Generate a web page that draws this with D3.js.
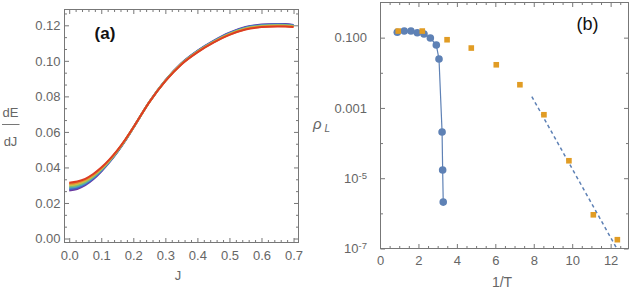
<!DOCTYPE html>
<html>
<head>
<meta charset="utf-8">
<script src="https://cdn.jsdelivr.net/npm/d3@7"></script>
<style>
  body { margin: 0; background: #fff; }
  svg { display: block; font-family: "Liberation Sans", Arial, sans-serif; }
  .tick text { fill: #666; font-size: 13px; }
  .tick line { stroke: #777; }
  .frame { fill: none; stroke: #777; stroke-width: 1; }
  .lbl { fill: #666; font-size: 13px; }
</style>
</head>
<body>
<svg width="633" height="293"></svg>
<script>
// panel (a): dE/dJ vs J, one curve per system size
let jVals = [0, 0.025, 0.05, 0.075, 0.1, 0.125, 0.15, 0.175, 0.2, 0.25, 0.3, 0.35, 0.4, 0.45, 0.5, 0.55, 0.6, 0.65, 0.675, 0.7];
let curvePurple = [.0270, .0279, .0300, .0333, .0377, .0428, .0486, .0551, .0623, .0768, .0890, .0986, .1056, .1112, .1158, .1190, .1204, .1208, .1207, .1202];
let curveBlue   = [.0277, .0286, .0306, .0338, .0381, .0431, .0488, .0552, .0623, .0768, .0889, .0985, .1055, .1110, .1156, .1188, .1202, .1206, .1205, .1200];
let curveCyan   = [.0285, .0293, .0312, .0343, .0384, .0433, .0489, .0553, .0624, .0768, .0889, .0984, .1053, .1109, .1154, .1185, .1199, .1203, .1202, .1198];
let curveGreen  = [.0292, .0300, .0318, .0348, .0388, .0436, .0491, .0554, .0624, .0768, .0888, .0983, .1052, .1107, .1152, .1183, .1197, .1201, .1200, .1196];
let curveYellow = [.0299, .0307, .0324, .0353, .0392, .0439, .0493, .0555, .0624, .0768, .0887, .0982, .1051, .1105, .1150, .1181, .1195, .1199, .1198, .1194];
let curveOrange = [.0307, .0314, .0330, .0358, .0395, .0441, .0494, .0556, .0625, .0768, .0887, .0981, .1049, .1104, .1148, .1178, .1192, .1196, .1195, .1192];
let curveRed    = [.0314, .0321, .0336, .0363, .0399, .0444, .0496, .0557, .0625, .0768, .0886, .0980, .1048, .1102, .1146, .1176, .1190, .1194, .1193, .1190];
let curves = [curvePurple, curveBlue, curveCyan, curveGreen, curveYellow, curveOrange, curveRed];
let curveColors = ["#6b3aa0", "#4062c8", "#4a9fc4", "#7dbd72", "#c8c04a", "#e8902e", "#dc3d24"];

let aXTicks = [0, 0.1, 0.2, 0.3, 0.4, 0.5, 0.6, 0.7];
let aYTicks = [0, 0.02, 0.04, 0.06, 0.08, 0.1, 0.12];

// panel (b): rho_L vs 1/T
let blueX = [0.90, 1.26, 1.61, 1.94, 2.29, 2.62, 2.93, 3.07, 3.23, 3.26, 3.29];
let blueY = [0.142, 0.154, 0.154, 0.138, 0.127, 0.0975, 0.0616, 0.0246, 2.06e-4, 1.71e-5, 2.09e-6];
let orangeX = [0.95, 2.20, 3.49, 4.75, 6.05, 7.28, 8.53, 9.83, 11.10, 12.35];
let orangeY = [0.154, 0.154, 0.0872, 0.0506, 0.0169, 0.00457, 6.4e-4, 3.14e-5, 9.1e-7, 1.78e-7];
let fitX = [7.9, 12.32];
let fitY = [2.1e-3, 1.0e-7];

let bXTicks = [0, 2, 4, 6, 8, 10, 12];
let bYTicks = [1e-1, 1e-3, 1e-5, 1e-7];
let bYLabels = ["0.100", "0.001", "10|-5", "10|-7"];

let svg = d3.select("svg");

function frameTicks(g, x, y, xMaj, xMin, yMaj, yMin, x0, x1, y0, y1) {
  // bottom / left with labels, top / right mirrored
  g.append("g").attr("transform", `translate(0,${y1})`)
    .call(d3.axisBottom(x).tickValues(xMin).tickSize(-2.5).tickFormat(""));
  g.append("g").attr("transform", `translate(0,${y0})`)
    .call(d3.axisTop(x).tickValues(xMin).tickSize(-2.5).tickFormat(""));
  g.append("g").attr("transform", `translate(0,${y0})`)
    .call(d3.axisTop(x).tickValues(xMaj).tickSize(-4.5).tickFormat(""));
  g.append("g").attr("transform", `translate(${x0},0)`)
    .call(d3.axisLeft(y).tickValues(yMin).tickSize(-2.5).tickFormat(""));
  g.append("g").attr("transform", `translate(${x1},0)`)
    .call(d3.axisRight(y).tickValues(yMin).tickSize(-2.5).tickFormat(""));
  g.append("g").attr("transform", `translate(${x1},0)`)
    .call(d3.axisRight(y).tickValues(yMaj).tickSize(-4.5).tickFormat(""));
  g.selectAll(".domain").remove();
}

// ---------- (a) ----------
let ax0 = 64.5, ax1 = 298.5, ay0 = 9.5, ay1 = 242.5;
let xa = d3.scaleLinear().domain([-0.0147, 0.7155]).range([ax0, ax1]);
let ya = d3.scaleLinear().domain([-0.00225, 0.1289]).range([ay1, ay0]);

let ga = svg.append("g");

let lineA = d3.line()
  .x((d, i) => xa(jVals[i]))
  .y(d => ya(d))
  .curve(d3.curveMonotoneX);

curves.forEach((c, k) => {
  ga.append("path")
    .attr("d", lineA(c))
    .attr("fill", "none")
    .attr("stroke", curveColors[k])
    .attr("stroke-width", 2);
});

let aXMinor = d3.range(0, 0.711, 0.02).filter(v => Math.abs(v * 10 - Math.round(v * 10)) > 1e-6);
let aYMinor = d3.range(0, 0.1285, 0.02 / 3).filter(v => Math.abs(v * 50 - Math.round(v * 50)) > 1e-6);

ga.append("g").attr("transform", `translate(0,${ay1})`)
  .call(d3.axisBottom(xa).tickValues(aXTicks).tickSize(-4.5).tickPadding(8)
    .tickFormat(d3.format(".1f")));
ga.append("g").attr("transform", `translate(${ax0},0)`)
  .call(d3.axisLeft(ya).tickValues(aYTicks).tickSize(-4.5).tickPadding(4)
    .tickFormat(d3.format(".2f")));
frameTicks(ga, xa, ya, aXTicks, aXMinor, aYTicks, aYMinor, ax0, ax1, ay0, ay1);
ga.selectAll(".domain").remove();

ga.append("rect").attr("class", "frame")
  .attr("x", ax0).attr("y", ay0).attr("width", ax1 - ax0).attr("height", ay1 - ay0);

// axis labels
ga.append("text").attr("class", "lbl").attr("x", 10.5).attr("y", 117).attr("text-anchor", "middle").text("dE");
ga.append("line").attr("x1", 2).attr("x2", 19.5).attr("y1", 124.5).attr("y2", 124.5)
  .attr("stroke", "#777").attr("stroke-width", 1);
ga.append("text").attr("class", "lbl").attr("x", 10.5).attr("y", 146).attr("text-anchor", "middle").text("dJ");
ga.append("text").attr("class", "lbl").attr("x", 178).attr("y", 280).attr("text-anchor", "middle").text("J");
ga.append("text").attr("x", 105).attr("y", 39).attr("text-anchor", "middle")
  .style("font-size", "17px").style("font-weight", "bold").attr("fill", "#111").text("(a)");

// ---------- (b) ----------
let bx0 = 380.5, bx1 = 628.5, by0 = 2.5, by1 = 248.5;
let xb = d3.scaleLinear().domain([0, 12.93]).range([380, bx1]);
let yb = d3.scaleLog().domain([1e-7, 1]).range([by1, by0]);

let gb = svg.append("g");

svg.append("defs").append("clipPath").attr("id", "clipb")
  .append("rect").attr("x", bx0).attr("y", by0).attr("width", bx1 - bx0).attr("height", by1 - by0);

let bXMinor = d3.range(0, 12.9, 0.5).filter(v => v % 2 !== 0);
let bYMinor = [1e-2, 1e-4, 1e-6];

gb.append("g").attr("transform", `translate(0,${by1})`)
  .call(d3.axisBottom(xb).tickValues(bXTicks).tickSize(-4.5).tickPadding(7)
    .tickFormat(d3.format("d")));
gb.append("g").attr("transform", `translate(${bx0},0)`)
  .call(d3.axisLeft(yb).tickValues(bYTicks).tickSize(-4.5).tickPadding(13.5)
    .tickFormat((d, i) => bYLabels[i]));
frameTicks(gb, xb, yb, bXTicks, bXMinor, bYTicks, bYMinor, bx0, bx1, by0, by1);

// superscripts for powers of ten
gb.selectAll(".tick text").each(function () {
  let t = d3.select(this);
  let s = t.text();
  if (s.indexOf("|") >= 0) {
    let parts = s.split("|");
    t.text(null);
    t.append("tspan").text(parts[0]);
    t.append("tspan").attr("dy", "-0.45em").style("font-size", "9.5px").text(parts[1]);
  }
});

gb.append("rect").attr("class", "frame")
  .attr("x", bx0).attr("y", by0).attr("width", bx1 - bx0).attr("height", by1 - by0);

let plot = gb.append("g").attr("clip-path", "url(#clipb)");

let blueLine = d3.line().x((d, i) => xb(blueX[i])).y(d => yb(d));
plot.append("path").attr("d", blueLine(blueY))
  .attr("fill", "none").attr("stroke", "#5E81B5").attr("stroke-width", 1.2);

let fitLine = d3.line().x((d, i) => xb(fitX[i])).y(d => yb(d));
plot.append("path").attr("d", fitLine(fitY))
  .attr("fill", "none").attr("stroke", "#5E81B5").attr("stroke-width", 1.5)
  .attr("stroke-dasharray", "3.5,3");

plot.selectAll("circle.pt").data(blueY).enter().append("circle")
  .attr("cx", (d, i) => xb(blueX[i])).attr("cy", d => yb(d))
  .attr("r", 3.8).attr("fill", "#5E81B5");

let sq = 5.6;
plot.selectAll("rect.pt").data(orangeY).enter().append("rect")
  .attr("x", (d, i) => xb(orangeX[i]) - sq / 2).attr("y", d => yb(d) - sq / 2)
  .attr("width", sq).attr("height", sq).attr("fill", "#E19C24");

// axis labels
let rho = gb.append("text").attr("class", "lbl").attr("x", 313).attr("y", 129)
  .style("font-size", "15px").style("font-style", "italic");
rho.append("tspan").text("ρ");
rho.append("tspan").attr("dx", "3").attr("dy", "3").style("font-size", "10px").text("L");
gb.append("text").attr("class", "lbl").attr("x", 502).attr("y", 286.5).attr("text-anchor", "middle")
  .style("font-size", "14px").text("1/T");
gb.append("text").attr("x", 587.5).attr("y", 29.5).attr("text-anchor", "middle")
  .style("font-size", "18px").attr("fill", "#111").text("(b)");
</script>
</body>
</html>
